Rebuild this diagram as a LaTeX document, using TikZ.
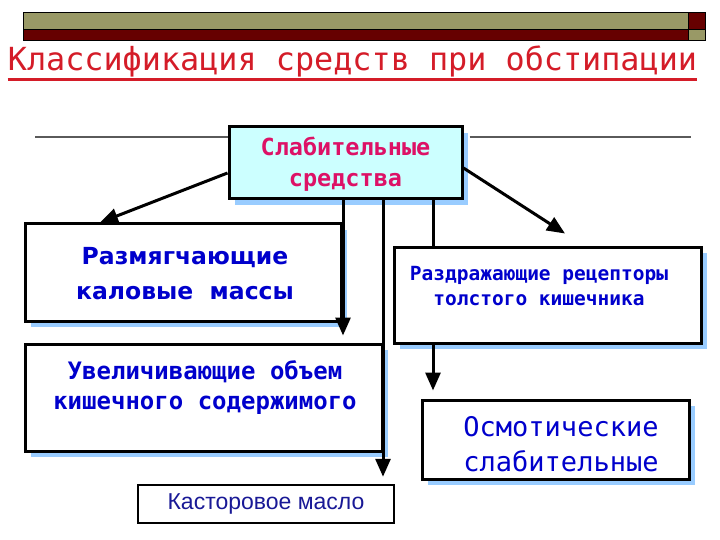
\documentclass[tikz,border=0pt]{standalone}
\usepackage{fontspec}
\setmainfont{DejaVu Sans}
\newfontfamily\monof{DejaVu Sans Mono}
\newfontfamily\arialf{Liberation Sans}
\usetikzlibrary{arrows.meta,shadows,calc}
\definecolor{olivebar}{RGB}{153,153,102}
\definecolor{darkredbar}{RGB}{102,0,0}
\definecolor{titlered}{RGB}{212,28,40}
\definecolor{magtext}{RGB}{221,17,102}
\definecolor{bluetext}{RGB}{0,0,204}
\definecolor{kasttext}{RGB}{25,25,150}
\definecolor{cyanfill}{RGB}{204,255,255}
\definecolor{shadowblue}{RGB}{153,204,255}
\definecolor{grayline}{RGB}{90,90,90}
\tikzset{
  box/.style={draw=black, line width=3pt, fill=white, inner sep=0pt,
    general shadow={fill=shadowblue, shadow xshift=6pt, shadow yshift=-6pt}},
  lbl/.style={inner sep=0pt, align=center, text=bluetext},
  conn/.style={line width=3pt, -{Triangle[length=18pt,width=15pt]}},
  plainconn/.style={line width=3pt},
  gline/.style={grayline, line width=1.5pt}
}
\begin{document}
\begin{tikzpicture}[x=1pt,y=-1pt]
\useasboundingbox (0,0) rectangle (720,540);
% top bar
\draw[fill=olivebar, line width=0.8pt] (23,12) rectangle (688,29);
\draw[fill=darkredbar, line width=0.8pt] (23,29) rectangle (688,40);
\draw[fill=darkredbar, line width=0.8pt] (688,12) rectangle (705,29);
\draw[fill=olivebar, line width=0.8pt] (688,29) rectangle (705,40);
% title
\node[anchor=base, inner sep=0pt, text=titlered, font={\monof\fontsize{31.8}{36}\selectfont}] (title) at (352.5,71) {Классификация средств при обстипации};
\coordinate (ul) at (0,79.5);
\draw[titlered, line width=2.5pt] (title.west |- ul) -- (title.east |- ul);
% boxes
\node[box, fill=cyanfill, minimum width=233pt, minimum height=72pt] (c) at (345.5,163) {};
\node[inner sep=0pt, align=center, text=magtext, font={\monof\bfseries\fontsize{23.5}{31}\selectfont}] (ct) at (345.5,164) {Слабительные\\средства};
\node[box, minimum width=316pt, minimum height=97pt] (razm) at (183,272.5) {};
\node[lbl, font={\bfseries\fontsize{23.5}{35}\selectfont}] (razmt) at (185,274) {Размягчающие\\каловые\ \ массы};
\node[box, minimum width=307pt, minimum height=96pt] (razd) at (547.5,295) {};
\node[lbl, font={\monof\bfseries\fontsize{19.5}{25}\selectfont}] (razdt) at (539,286) {Раздражающие рецепторы\\толстого кишечника};
\node[box, minimum width=357pt, minimum height=107pt] (uvel) at (203.5,397.5) {};
\node[lbl, font={\monof\bfseries\fontsize{24}{30}\selectfont}] (uvelt) at (205,388) {Увеличивающие объем\\кишечного содержимого};
\node[box, minimum width=267pt, minimum height=79pt] (osm) at (555.5,439.5) {};
\node[lbl, font={\monof\fontsize{27}{35}\selectfont}] (osmt) at (561,444) {Осмотические\\слабительные};
\node[draw=black, line width=2.5pt, fill=white, minimum width=256pt, minimum height=38pt, inner sep=0pt, text=kasttext, font={\arialf\fontsize{23}{26}\selectfont}] (kast) at (266,504) {Касторовое масло};
% gray lines
\coordinate (gl) at (35,137);
\coordinate (gr) at (691,137);
\draw[gline] (gl) -- (gl -| c.west);
\draw[gline] ([xshift=6pt]c.east |- gr) -- (gr);
% connectors
\draw[conn] ([yshift=-10pt]c.west) -- ([xshift=-83pt]razm.north);
\draw[conn, shorten >=7pt] ([xshift=-2.5pt]c.south) -- ([xshift=-2.5pt]c.south |- uvel.north);
\draw[conn, shorten >=7pt] ([xshift=37.5pt]c.south) -- ([xshift=37.5pt]c.south |- kast.north);
\draw[plainconn] ([xshift=87.5pt]c.south) -- ([xshift=87.5pt]c.south |- razd.north);
\draw[conn, shorten >=8pt] ([xshift=-114.5pt]razd.south) -- ([xshift=-114.5pt]razd.south |- osm.north);
\draw[conn] ([yshift=-5pt]c.east) -- ([xshift=17.5pt,yshift=12pt]razd.north);
\end{tikzpicture}
\end{document}
